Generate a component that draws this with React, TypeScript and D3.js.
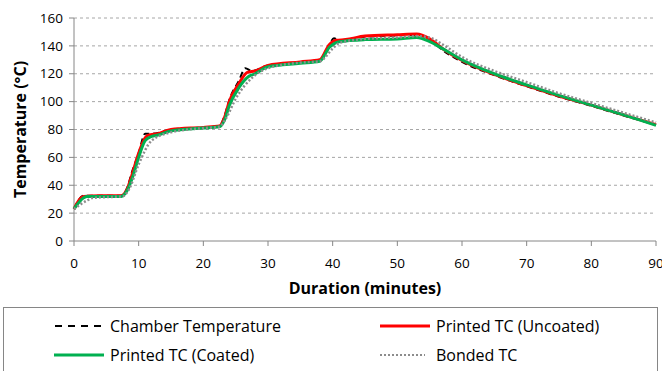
import * as d3 from "d3";

// Chamber temperature (black dashed)
const chamberTime = [0, 1.5, 4, 7.3, 8.2, 9, 10, 11, 12, 13, 15, 20, 22.5, 23.3, 24, 25.5, 26.5, 27.5, 30, 35, 38, 39.5, 40.2, 41, 45, 50, 53, 55, 57, 60, 65, 70, 75, 80, 85, 90];
const chamberTemp = [23, 32.5, 32.5, 32.5, 38, 50, 63, 77, 77, 77.5, 80, 81.5, 82.5, 90, 101, 115, 124, 122, 126, 128, 129.5, 141, 145.5, 144, 146.5, 147.5, 148, 144.5, 137, 128.5, 119, 111, 103.5, 97, 90, 83.5];

// Printed TC (Uncoated) - red
const uncoatedTime = [0, 1.5, 4, 7.3, 8.2, 9, 10, 11, 11.5, 13, 15, 20, 22.5, 23.3, 24, 25.5, 26.8, 28, 30, 35, 38, 39.5, 40.5, 42, 45, 50, 53, 55, 57, 60, 65, 70, 75, 80, 85, 90];
const uncoatedTemp = [23, 32, 32.5, 32.5, 37, 48, 63, 74, 76, 77, 80, 81.5, 82.5, 89, 100, 113, 121, 122, 126, 128.5, 130, 141, 144, 144.5, 147, 148, 148.5, 145, 138, 129.5, 119.5, 111.5, 104, 97.5, 90.5, 83.5];

// Printed TC (Coated) - green
const coatedTime = [0, 1.5, 2, 4, 7.3, 8.2, 9, 10, 11, 12, 13, 15, 20, 22.5, 23.3, 24, 25.5, 27, 28, 30, 35, 38, 39.5, 41, 45, 50, 53, 55, 57, 60, 65, 70, 75, 80, 85, 90];
const coatedTemp = [23, 31, 32, 32, 32, 36, 45, 60, 72, 75, 76, 79, 81, 82, 87, 97, 110, 118, 120, 125, 127.5, 129, 139, 143, 144.5, 145, 146, 143, 138, 130, 120, 112, 104.5, 97.5, 90.5, 83];

// Bonded TC - grey dotted
const bondedTime = [0, 2, 3, 5, 7.5, 8.5, 10, 12, 15, 20, 22.5, 23.5, 25, 27.5, 30, 35, 38, 40, 41, 45, 50, 53, 55, 57, 60, 65, 70, 75, 80, 85, 90];
const bondedTemp = [23, 29, 31, 31.5, 32, 37, 55, 72, 78, 81, 82, 88, 102, 117, 124, 128, 129, 138, 142, 145, 146, 147, 146, 141, 132, 122, 114, 106, 99, 92, 85];

const xTicks = [0, 10, 20, 30, 40, 50, 60, 70, 80, 90];
const yTicks = [0, 20, 40, 60, 80, 100, 120, 140, 160];

const FONT = "'Open Sans', sans-serif";

const toPoints = (t: number[], v: number[]) => t.map((d, i) => [d, v[i]] as [number, number]);

export default function App() {
  const left = 74;
  const right = 656;
  const top = 18;
  const bottom = 241;

  const x = d3.scaleLinear().domain([0, 90]).range([left, right]);
  const y = d3.scaleLinear().domain([0, 160]).range([bottom, top]);

  const line = d3
    .line<[number, number]>()
    .x((d) => x(d[0]))
    .y((d) => y(d[1]))
    .curve(d3.curveMonotoneX);

  const series = [
    { name: "chamber", pts: toPoints(chamberTime, chamberTemp), stroke: "#000", width: 2, dash: "6,4" },
    { name: "uncoated", pts: toPoints(uncoatedTime, uncoatedTemp), stroke: "#ff0000", width: 3, dash: undefined },
    { name: "coated", pts: toPoints(coatedTime, coatedTemp), stroke: "#00b050", width: 3, dash: undefined },
    { name: "bonded", pts: toPoints(bondedTime, bondedTemp), stroke: "#8c8c8c", width: 2.5, dash: "2,2" },
  ];

  return (
    <svg width={662} height={371} style={{ position: "absolute", left: 0, top: 0, background: "#fff" }}>
      <rect x={0} y={0} width={662} height={371} fill="#fff" />
      {/* gridlines */}
      {yTicks.slice(1).map((t) => (
        <line key={"g" + t} x1={left} x2={right} y1={y(t)} y2={y(t)} stroke="#a6a6a6" strokeDasharray="3,3" strokeWidth={1} />
      ))}
      {/* axes */}
      <line x1={left} x2={left} y1={top} y2={bottom} stroke="#868686" />
      <line x1={left} x2={right} y1={bottom} y2={bottom} stroke="#868686" />
      {yTicks.map((t) => (
        <g key={"y" + t}>
          <line x1={left - 5} x2={left} y1={y(t)} y2={y(t)} stroke="#868686" />
          <text x={left - 11} y={y(t)} dy="0.35em" textAnchor="end" fontFamily={FONT} fontSize={13.5} fill="#000">
            {t}
          </text>
        </g>
      ))}
      {xTicks.map((t) => (
        <g key={"x" + t}>
          <line x1={x(t)} x2={x(t)} y1={bottom} y2={bottom + 5} stroke="#868686" />
          <text x={x(t)} y={263} dy="0.35em" textAnchor="middle" fontFamily={FONT} fontSize={13.5} fill="#000">
            {t}
          </text>
        </g>
      ))}
      {/* series */}
      {series.map((s) => (
        <path
          key={s.name}
          d={line(s.pts) || ""}
          fill="none"
          stroke={s.stroke}
          strokeWidth={s.width}
          strokeDasharray={s.dash}
          strokeLinejoin="round"
        />
      ))}
      {/* axis titles */}
      <text x={365} y={288} dy="0.35em" textAnchor="middle" fontFamily={FONT} fontSize={16} fontWeight="bold">
        Duration (minutes)
      </text>
      <text
        transform={`translate(20,${(top + bottom) / 2}) rotate(-90)`}
        dy="0.35em"
        textAnchor="middle"
        fontFamily={FONT}
        fontSize={16}
        fontWeight="bold"
      >
        Temperature (°C)
      </text>
      {/* legend */}
      <rect x={3.5} y={307.5} width={654} height={70} fill="#fff" stroke="#868686" />
      <line x1={55} x2={101} y1={326} y2={326} stroke="#000" strokeWidth={2} strokeDasharray="7,6" />
      <text x={110} y={326} dy="0.35em" fontFamily={FONT} fontSize={16}>Chamber Temperature</text>
      <line x1={380} x2={430} y1={326} y2={326} stroke="#ff0000" strokeWidth={3} />
      <text x={436} y={326} dy="0.35em" fontFamily={FONT} fontSize={16}>Printed TC (Uncoated)</text>
      <line x1={54} x2={104} y1={355} y2={355} stroke="#00b050" strokeWidth={3} />
      <text x={110} y={355} dy="0.35em" fontFamily={FONT} fontSize={16}>Printed TC (Coated)</text>
      <line x1={380} x2={425} y1={355} y2={355} stroke="#8c8c8c" strokeWidth={2} strokeDasharray="2,2" />
      <text x={436} y={355} dy="0.35em" fontFamily={FONT} fontSize={16}>Bonded TC</text>
    </svg>
  );
}
